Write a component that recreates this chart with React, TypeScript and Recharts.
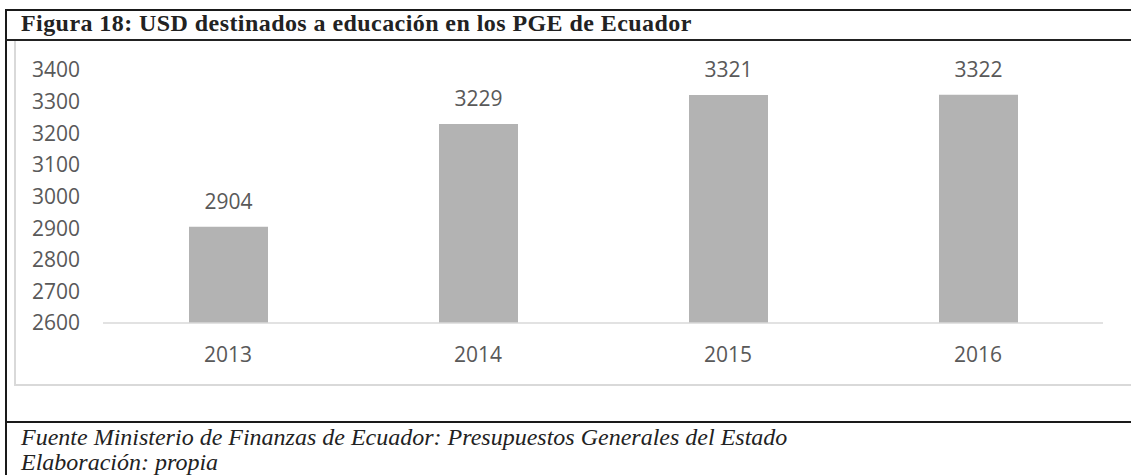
import React from "react";
import { BarChart, Bar, XAxis, YAxis, LabelList } from "recharts";

const years = ["2013", "2014", "2015", "2016"];
const usdValues = [2904, 3229, 3321, 3322];
const yTicks = [2600, 2700, 2800, 2900, 3000, 3100, 3200, 3300, 3400];

const titleText = "Figura 18: USD destinados a educación en los PGE de Ecuador";
const sourceLine = "Fuente Ministerio de Finanzas de Ecuador: Presupuestos Generales del Estado";
const authorLine = "Elaboración: propia";

const data = years.map((y, i) => ({ year: y, value: usdValues[i] }));

const labelFont = "'Open Sans', 'Liberation Sans', sans-serif";
const serif = "'Liberation Serif', 'DejaVu Serif', serif";

export default function App() {
  return (
    <div style={{ position: "absolute", left: 0, top: 0, width: 1131, height: 475, background: "#fff", overflow: "hidden" }}>
      {/* top black line */}
      <div style={{ position: "absolute", left: 5, top: 9, width: 1126, height: 2, background: "#1a1a1a" }} />
      {/* left black line */}
      <div style={{ position: "absolute", left: 5, top: 9, width: 2, height: 466, background: "#1a1a1a" }} />
      {/* title */}
      <div style={{ position: "absolute", left: 21, top: 10, fontFamily: serif, fontWeight: 700, fontSize: 24, letterSpacing: 0.43, color: "#222", whiteSpace: "nowrap", lineHeight: "26px" }}>
        {titleText}
      </div>
      {/* line under title */}
      <div style={{ position: "absolute", left: 5, top: 39, width: 1126, height: 2, background: "#222" }} />
      {/* chart frame */}
      <div style={{ position: "absolute", left: 14, top: 41, width: 1130, height: 343, borderLeft: "2px solid #d9d9d9", borderBottom: "2px solid #d9d9d9" }} />
      {/* chart */}
      <div style={{ position: "absolute", left: 0, top: 0 }}>
        <BarChart width={1131} height={475} data={data} margin={{ top: 70, right: 28, bottom: 122, left: 0 }}>
          <XAxis
            dataKey="year"
            height={30}
            tickSize={0}
            tickMargin={24}
            axisLine={{ stroke: "#d9d9d9", strokeWidth: 1.5 }}
            tickLine={false}
            tick={{ fill: "#595959", fontSize: 21, fontFamily: labelFont }}
          />
          <YAxis
            width={103}
            domain={[2600, 3400]}
            ticks={yTicks}
            interval={0}
            tickSize={0}
            tickMargin={23}
            axisLine={false}
            tickLine={false}
            tick={{ fill: "#595959", fontSize: 21, fontFamily: labelFont }}
          />
          <Bar dataKey="value" fill="#b3b3b3" barSize={79} isAnimationActive={false}>
            <LabelList dataKey="value" position="top" offset={18} fill="#595959" fontSize={21} fontFamily={labelFont} />
          </Bar>
        </BarChart>
      </div>
      {/* bottom black line */}
      <div style={{ position: "absolute", left: 5, top: 421, width: 1126, height: 2, background: "#1a1a1a" }} />
      {/* footer */}
      <div style={{ position: "absolute", left: 21, top: 425, fontFamily: serif, fontStyle: "italic", fontSize: 24, color: "#222", whiteSpace: "nowrap", lineHeight: "25px" }}>
        <div>{sourceLine}</div>
        <div>{authorLine}</div>
      </div>
    </div>
  );
}
